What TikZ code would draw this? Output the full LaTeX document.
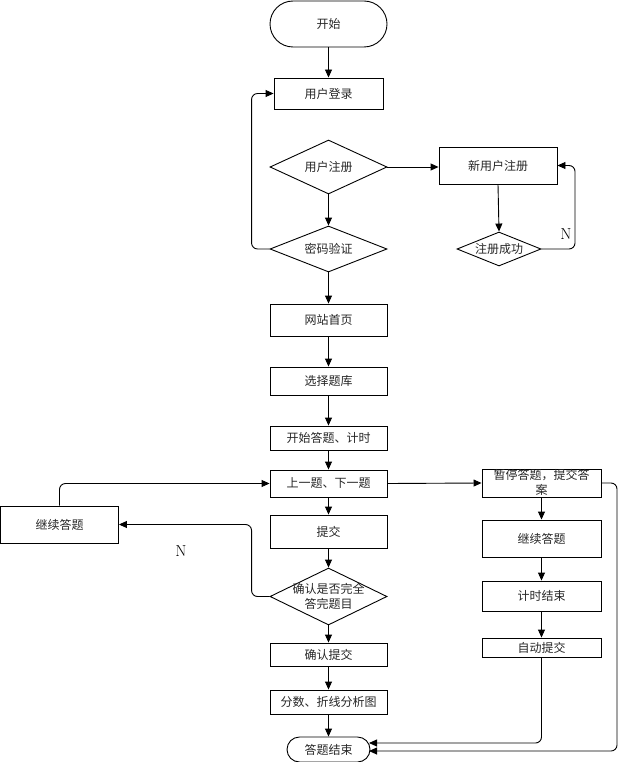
\documentclass[tikz,border=0pt]{standalone}
\usepackage{fontspec}
\newfontfamily\cjk{Noto Sans CJK SC}
\usetikzlibrary{shapes.geometric,arrows.meta}
\begin{document}
\begin{tikzpicture}[x=1pt,y=-1pt,line width=0.9pt,
  every node/.style={font=\cjk\fontsize{12}{15}\selectfont, inner sep=0pt, text=black!85},
  box/.style={draw, rectangle, minimum width=117, text=black!85},
  term/.style={draw, rectangle},
  dia/.style={draw, diamond, inner sep=0pt},
  arr/.style={-{Triangle[length=8pt,width=7pt]}},
  rc/.style={rounded corners=6pt},
  lab/.style={font=\rmfamily\fontsize{16}{16}\selectfont, text=black}]
\useasboundingbox (0,0) rectangle (619,762);
% nodes
\node[term, minimum width=117, minimum height=46, rounded corners=23] (start) at (328.5,24) {开始};
\node[box, minimum width=109, minimum height=31] (login) at (328.5,93.5) {用户登录};
\node[dia, minimum width=117, minimum height=54, label=center:用户注册] (reg) at (328.5,167) {};
\node[box, minimum width=118, minimum height=37] (newreg) at (498,165.5) {新用户注册};
\node[dia, minimum width=84, minimum height=34, label=center:注册成功] (ok) at (499,249) {};
\node[dia, minimum width=117, minimum height=46, label=center:密码验证] (pwd) at (328.5,249) {};
\node[box, minimum height=32] (home) at (328.5,320) {网站首页};
\node[box, minimum height=28] (bank) at (328.5,381) {选择题库};
\node[box, minimum height=24] (begin) at (328.5,438) {开始答题、计时};
\node[box, minimum height=27] (nav) at (328.5,483.5) {上一题、下一题};
\node[box, minimum width=119, minimum height=28] (pause) at (541.5,483) {};
\node[align=center] (pausetxt) at (541.5,482) {暂停答题，提交答\\案};
\node[box, minimum width=118, minimum height=37] (contl) at (59.5,524.5) {继续答题};
\node[box, minimum height=33] (submit) at (328.5,531.5) {提交};
\node[dia, minimum width=117, minimum height=57, label={[align=center]center:确认是否完全\\答完题目}] (check) at (328.5,596.5) {};
\node[box, minimum height=23] (confirm) at (328.5,654.5) {确认提交};
\node[box, minimum height=24] (score) at (328.5,702) {分数、折线分析图};
\node[term, minimum width=83, minimum height=25, rounded corners=12.5] (end) at (328.5,749.5) {答题结束};
\node[box, minimum width=119, minimum height=37] (contr) at (541.5,538.5) {继续答题};
\node[box, minimum width=119, minimum height=30] (timeup) at (541.5,596) {计时结束};
\node[box, minimum width=119, minimum height=19] (auto) at (541.5,647.5) {自动提交};
\node[lab] (n1) at (566,234) {N};
\node[lab] (n2) at (181,551) {N};
\coordinate (endin1) at (369,743);
\coordinate (endin2) at (369,751);
% connectors
\draw[arr] (start) -- (login);
\draw[arr, rc] (pwd.west) -- ++(-18,0) |- (login.west);
\draw[arr] (reg.east) -- (reg.east -| newreg.west);
\draw[arr] (reg.south) -- (pwd.north);
\draw[arr] (newreg.south) -- (ok.north);
\draw[arr, rc] (ok.east) -- (575,249) |- (newreg.east);
\draw[arr] (pwd.south) -- (home.north);
\draw[arr] (home) -- (bank);
\draw[arr] (bank) -- (begin);
\draw[arr] (begin) -- (nav);
\draw[arr, rc] (contl.north) |- (nav.west);
\draw[arr] (nav.east) -- (pause.west);
\draw[arr] (nav) -- (submit);
\draw[arr] (submit) -- (check.north);
\draw[arr, rc] (check.west) -- ++(-18,0) |- (contl.east);
\draw[arr] (check.south) -- (confirm);
\draw[arr] (confirm) -- (score);
\draw[arr] (score) -- (end);
\draw[arr] (pause) -- (contr);
\draw[arr] (contr) -- (timeup);
\draw[arr] (timeup) -- (auto);
\draw[arr, rc] (auto.south) |- (endin1);
\draw[arr, rc] (pause.east) -- (617,483) |- (endin2);
\end{tikzpicture}
\end{document}
